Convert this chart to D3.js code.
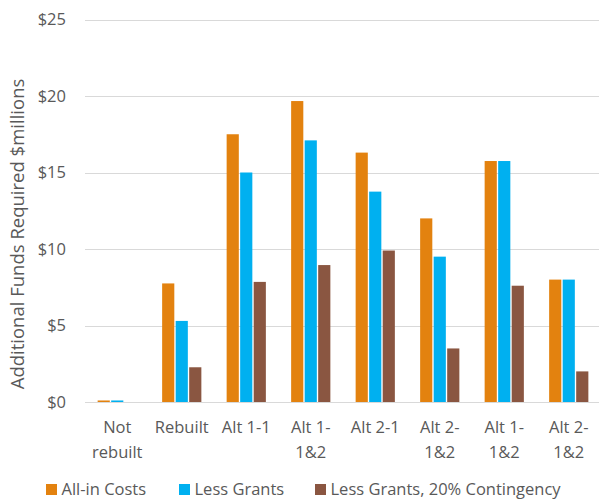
<!DOCTYPE html>
<html>
<head>
<meta charset="utf-8">
<script src="https://cdn.jsdelivr.net/npm/d3@7"></script>
<style>
  body { margin: 0; background: #fff; }
  text { font-family: "Open Sans", Lato, sans-serif; fill: #595959; }
</style>
</head>
<body>
<svg width="599" height="502"></svg>
<script>
var categories = ['Not rebuilt', 'Rebuilt', 'Alt 1-1', 'Alt 1-1&2', 'Alt 2-1', 'Alt 2-1&2', 'Alt 1-1&2 ', 'Alt 2-1&2 '];
var labelLines = [['Not', 'rebuilt'], ['Rebuilt'], ['Alt 1-1'], ['Alt 1-', '1&2'], ['Alt 2-1'], ['Alt 2-', '1&2'], ['Alt 1-', '1&2'], ['Alt 2-', '1&2']];
var seriesNames = ['All-in Costs', 'Less Grants', 'Less Grants, 20% Contingency'];
var allInCosts = [0.1, 7.75, 17.5, 19.67, 16.3, 12.0, 15.75, 8.0];
var lessGrants = [0.1, 5.3, 15.0, 17.1, 13.75, 9.5, 15.75, 8.0];
var lessGrantsContingency = [0, 2.27, 7.85, 8.95, 9.9, 3.5, 7.6, 2.0];
var yTicks = [0, 5, 10, 15, 20, 25];
var colors = ['#E3820F', '#00B0F0', '#8A5641'];

var series = [allInCosts, lessGrants, lessGrantsContingency];

var svg = d3.select('svg');
var plotTop = 19.5, plotBottom = 402, plotLeft = 85, plotRight = 601;

var y = d3.scaleLinear().domain([0, 25]).range([plotBottom, plotTop]);

var x0 = d3.scaleBand().domain(categories).range([plotLeft, plotRight])
  .paddingInner(0.35).paddingOuter(0.175);
var x1 = d3.scaleBand().domain(d3.range(series.length)).range([0, x0.bandwidth()])
  .padding(0.1);

// gridlines
svg.append('g')
  .selectAll('line')
  .data(yTicks)
  .enter()
  .append('line')
  .attr('x1', plotLeft)
  .attr('x2', 599)
  .attr('y1', function(d) { return Math.round(y(d)) + 0.5; })
  .attr('y2', function(d) { return Math.round(y(d)) + 0.5; })
  .attr('stroke', '#d9d9d9')
  .attr('stroke-width', 1);

// y tick labels
svg.append('g')
  .selectAll('text')
  .data(yTicks)
  .enter()
  .append('text')
  .attr('x', 66)
  .attr('y', function(d) { return y(d); })
  .attr('dy', '0.36em')
  .attr('text-anchor', 'end')
  .style('font-size', '16.5px')
  .text(function(d) { return '$' + d; });

// bars
var groups = svg.append('g')
  .selectAll('g')
  .data(categories)
  .enter()
  .append('g')
  .attr('transform', function(d) { return 'translate(' + x0(d) + ',0)'; });

groups.selectAll('rect')
  .data(function(d, i) { return series.map(function(s, j) { return { s: j, v: s[i] }; }); })
  .enter()
  .append('rect')
  .attr('x', function(d) { return x1(d.s); })
  .attr('width', x1.bandwidth())
  .attr('y', function(d) { return y(d.v); })
  .attr('height', function(d) { return plotBottom - y(d.v); })
  .attr('fill', function(d) { return colors[d.s]; });

// category labels, centred under each group
var labels = svg.append('g')
  .selectAll('text')
  .data(categories)
  .enter()
  .append('text')
  .attr('text-anchor', 'middle')
  .style('font-size', '16.5px')
  .attr('transform', function(d) { return 'translate(' + (x0(d) + x0.bandwidth() / 2) + ',433)'; });

labels.selectAll('tspan')
  .data(function(d, i) { return labelLines[i]; })
  .enter()
  .append('tspan')
  .attr('x', 0)
  .attr('dy', function(d, i) { return i === 0 ? 0 : 25; })
  .text(function(d) { return d; });

// y axis title
svg.append('text')
  .attr('transform', 'translate(24,234) rotate(-90)')
  .attr('text-anchor', 'middle')
  .style('font-size', '18.5px')
  .text('Additional Funds Required $millions');

// legend
var legendX = [46, 179, 315];
var legend = svg.append('g')
  .selectAll('g')
  .data(seriesNames)
  .enter()
  .append('g')
  .attr('transform', function(d, i) { return 'translate(' + legendX[i] + ',484)'; });

legend.append('rect')
  .attr('width', 11)
  .attr('height', 11)
  .attr('fill', function(d, i) { return colors[i]; });

legend.append('text')
  .attr('x', 15.5)
  .attr('y', 11)
  .style('font-size', '16.5px')
  .text(function(d) { return d; });
</script>
</body>
</html>
